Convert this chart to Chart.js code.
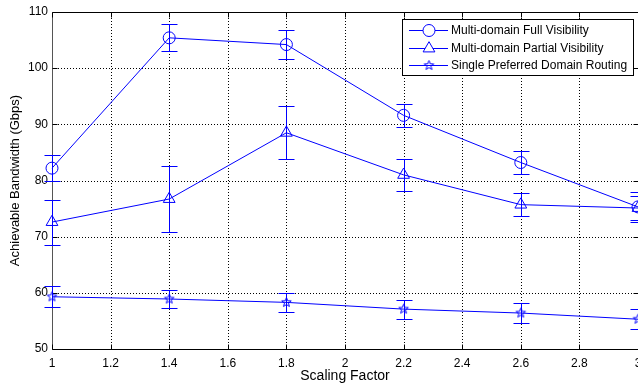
<!DOCTYPE html>
<html>
<head>
<meta charset="utf-8">
<script src="https://cdn.jsdelivr.net/npm/chart.js@4/dist/chart.umd.min.js"></script>
<style>
html, body { margin: 0; padding: 0; background: #fff; overflow: hidden; }
#wrap { width: 700px; height: 385px; }
</style>
</head>
<body>
<div id="wrap"><canvas id="chart" width="700" height="385"></canvas></div>
<script>
// values
const scaleFactors = [1, 1.4, 1.8, 2.2, 2.6, 3];
const fullVis = [82.2, 105.4, 104.2, 91.6, 83.2, 75.3];
const fullVisErr = [2.3, 2.4, 2.6, 2.1, 2.1, 2.6];
const partialVis = [72.6, 76.7, 88.5, 81.0, 75.7, 75.1];
const partialVisErr = [4.0, 5.8, 4.7, 2.8, 2.1, 2.1];
const singleDomain = [59.3, 58.9, 58.3, 57.1, 56.4, 55.3];
const singleDomainErr = [1.85, 1.65, 1.65, 1.7, 1.75, 1.8];
const seriesNames = ['Multi-domain Full Visibility', 'Multi-domain Partial Visibility', 'Single Preferred Domain Routing'];
const xTicks = [1, 1.2, 1.4, 1.6, 1.8, 2, 2.2, 2.4, 2.6, 2.8, 3];
const yTicks = [50, 60, 70, 80, 90, 100, 110];

const BLUE = '#0000ff';
const FONT = "'Liberation Sans', Arial, sans-serif";

function makeStar(r, color) {
    const size = Math.ceil(r * 2 + 3);
    const c = document.createElement('canvas');
    c.width = c.height = size;
    const g = c.getContext('2d');
    const cx = size / 2, cy = size / 2, ri = r * 0.42;
    g.beginPath();
    for (let k = 0; k < 10; k++) {
        const a = -Math.PI / 2 + k * Math.PI / 5;
        const rr = k % 2 ? ri : r;
        g.lineTo(cx + rr * Math.cos(a), cy + rr * Math.sin(a));
    }
    g.closePath();
    g.strokeStyle = color;
    g.lineWidth = 1;
    g.stroke();
    return c;
}

const starImg = makeStar(5, BLUE);

function series(label, values, errors, style, radius) {
    return {
        label,
        data: scaleFactors.map((x, i) => ({ x, y: values[i] })),
        errors,
        borderColor: BLUE,
        borderWidth: 1,
        tension: 0,
        clip: false,
        pointStyle: style,
        pointRadius: radius,
        pointHoverRadius: radius,
        pointBorderColor: BLUE,
        pointBackgroundColor: 'rgba(0,0,0,0)',
        pointBorderWidth: 1
    };
}

const matlabFrame = {
    id: 'matlabFrame',
    beforeDatasetsDraw(chart) {
        const { ctx, chartArea: a, scales: { x, y } } = chart;
        ctx.save();
        ctx.strokeStyle = '#000';
        ctx.lineWidth = 1;
        ctx.setLineDash([1, 2]);
        ctx.beginPath();
        xTicks.forEach(v => {
            const px = Math.round(x.getPixelForValue(v)) + 0.5;
            if (v === xTicks[0] || v === xTicks[xTicks.length - 1]) return;
            ctx.moveTo(px, a.top); ctx.lineTo(px, a.bottom);
        });
        yTicks.forEach(v => {
            const py = Math.round(y.getPixelForValue(v)) + 0.5;
            if (v === yTicks[0] || v === yTicks[yTicks.length - 1]) return;
            ctx.moveTo(a.left, py); ctx.lineTo(a.right, py);
        });
        ctx.stroke();
        ctx.setLineDash([]);
        // box
        const L = Math.round(a.left) + 0.5, R = Math.round(a.right) + 0.5;
        const T = Math.round(a.top) + 0.5, B = Math.round(a.bottom) + 0.5;
        ctx.beginPath();
        ctx.moveTo(L, T); ctx.lineTo(R, T); ctx.lineTo(R, B); ctx.lineTo(L, B);
        ctx.stroke();
        ctx.strokeStyle = '#555';
        ctx.beginPath();
        ctx.moveTo(L, T); ctx.lineTo(L, B);
        ctx.stroke();
        // inward tick marks
        ctx.strokeStyle = '#000';
        ctx.beginPath();
        xTicks.forEach(v => {
            const px = Math.round(x.getPixelForValue(v)) + 0.5;
            ctx.moveTo(px, B); ctx.lineTo(px, B - 5);
            ctx.moveTo(px, T); ctx.lineTo(px, T + 5);
        });
        yTicks.forEach(v => {
            const py = Math.round(y.getPixelForValue(v)) + 0.5;
            ctx.moveTo(L, py); ctx.lineTo(L + 5, py);
            ctx.moveTo(R, py); ctx.lineTo(R - 5, py);
        });
        ctx.stroke();
        ctx.restore();
    },
    afterDatasetsDraw(chart) {
        const { ctx, scales: { x, y } } = chart;
        ctx.save();
        ctx.strokeStyle = BLUE;
        ctx.lineWidth = 1;
        chart.data.datasets.forEach(ds => {
            ds.data.forEach((p, i) => {
                const e = ds.errors[i];
                const px = Math.round(x.getPixelForValue(p.x)) + 0.5;
                const top = Math.round(y.getPixelForValue(p.y + e)) + 0.5;
                const bot = Math.round(y.getPixelForValue(p.y - e)) + 0.5;
                ctx.beginPath();
                ctx.moveTo(px, top); ctx.lineTo(px, bot);
                ctx.moveTo(px - 8, top); ctx.lineTo(px + 8, top);
                ctx.moveTo(px - 8, bot); ctx.lineTo(px + 8, bot);
                ctx.stroke();
            });
        });
        ctx.restore();
    },
    afterDraw(chart) {
        const ctx = chart.ctx;
        const bx = 402.5, by = 19.5, bw = 231, bh = 56;
        ctx.save();
        ctx.fillStyle = '#fff';
        ctx.fillRect(bx, by, bw, bh);
        ctx.strokeStyle = '#000';
        ctx.lineWidth = 1;
        ctx.strokeRect(bx, by, bw, bh);
        ctx.font = '12px ' + FONT;
        ctx.textBaseline = 'middle';
        chart.data.datasets.forEach((ds, i) => {
            const ry = Math.round(30 + i * 17.5) + 0.5;
            ctx.strokeStyle = BLUE;
            ctx.beginPath();
            ctx.moveTo(409, ry); ctx.lineTo(448, ry);
            ctx.stroke();
            ctx.fillStyle = '#fff';
            Chart.helpers.drawPoint(ctx, { pointStyle: ds.pointStyle, radius: ds.pointRadius, borderWidth: 1, rotation: 0 }, 429, ry);
            ctx.fillStyle = '#000';
            ctx.fillText(ds.label, 451, ry + 0.5);
        });
        ctx.restore();
    }
};

new Chart(document.getElementById('chart'), {
    type: 'line',
    data: {
        datasets: [
            series(seriesNames[0], fullVis, fullVisErr, 'circle', 6),
            series(seriesNames[1], partialVis, partialVisErr, 'triangle', 6.8),
            series(seriesNames[2], singleDomain, singleDomainErr, starImg, 5)
        ]
    },
    options: {
        responsive: false,
        animation: false,
        devicePixelRatio: 1,
        layout: { padding: { top: 12, right: 62, bottom: 0, left: 0 } },
        plugins: { legend: { display: false }, tooltip: { enabled: false } },
        scales: {
            x: {
                type: 'linear', min: 1, max: 3,
                afterBuildTicks: s => { s.ticks = xTicks.map(v => ({ value: v })); },
                afterFit: s => { s.height = 36; s.paddingLeft = 0; s.paddingRight = 0; },
                grid: { display: false, drawTicks: false },
                border: { display: false },
                ticks: { color: '#000', padding: 7, maxRotation: 0, autoSkip: false,
                         font: { family: FONT, size: 12 }, callback: v => String(v) },
                title: { display: true, text: 'Scaling Factor', color: '#000',
                         font: { family: FONT, size: 14 }, padding: 0 }
            },
            y: {
                type: 'linear', min: 50, max: 110,
                afterBuildTicks: s => { s.ticks = yTicks.map(v => ({ value: v })); },
                afterFit: s => { s.width = 52; s.paddingTop = 0; s.paddingBottom = 0; },
                grid: { display: false, drawTicks: false },
                border: { display: false },
                ticks: { color: '#000', padding: 4, autoSkip: false,
                         font: { family: FONT, size: 12 }, callback: v => String(v) },
                title: { display: true, text: 'Achievable Bandwidth (Gbps)', color: '#000',
                         font: { family: FONT, size: 13 }, padding: { top: 8, bottom: 0 } }
            }
        }
    },
    plugins: [matlabFrame]
});
</script>
</body>
</html>
